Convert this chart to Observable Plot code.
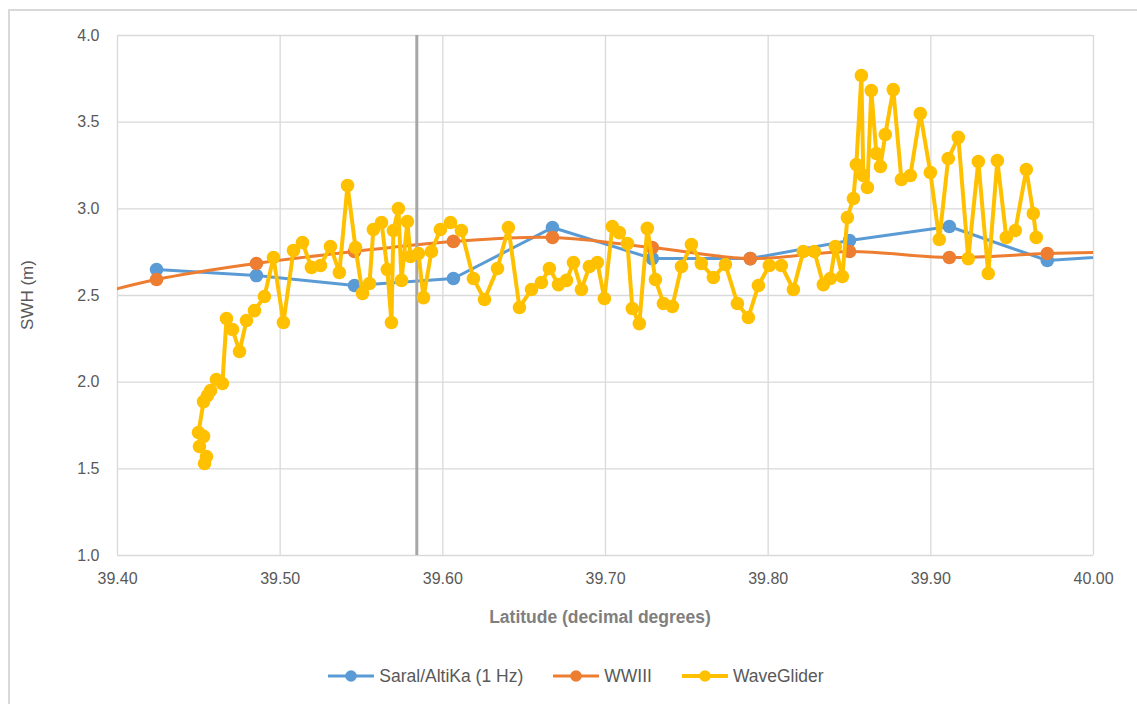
<!DOCTYPE html>
<html>
<head>
<meta charset="utf-8">
<script src="https://cdn.jsdelivr.net/npm/d3@7"></script>
<script src="https://cdn.jsdelivr.net/npm/@observablehq/plot@0.6"></script>
<style>
  html, body { margin: 0; padding: 0; background: #fff; }
  body { position: relative; width: 1137px; height: 704px; overflow: hidden; font-family: "Liberation Sans", Arial, sans-serif; }
  #frame { position: absolute; left: 8px; top: 9px; width: 1150px; height: 720px; border: 2px solid #d9d9d9; box-sizing: border-box; }
  #chart { position: absolute; left: 0; top: 0; }
  #legend { position: absolute; left: 0; top: 664px; width: 1152px; height: 24px; display: flex; justify-content: center; align-items: center; font-size: 17.5px; color: #595959; }
  .item { display: flex; align-items: center; margin: 0 15px; }
  .item svg { margin-right: 5px; }
</style>
</head>
<body>
<div id="frame"></div>
<div id="chart"></div>
<div id="legend"></div>
<script>
// ---- Data ----
const xTicks = [39.4, 39.5, 39.6, 39.7, 39.8, 39.9, 40.0];
const yTicks = [1.0, 1.5, 2.0, 2.5, 3.0, 3.5, 4.0];
const seriesNames = ["Saral/AltiKa (1 Hz)", "WWIII", "WaveGlider"];
const seriesColors = ["#5B9BD5", "#ED7D31", "#FFC000"];

const markerLat = 39.584;

const saralLat = [39.424, 39.4854, 39.5457, 39.6065, 39.6674, 39.7288, 39.789, 39.850, 39.9114, 39.9716, 40.033];
const saralSwh = [2.650, 2.615, 2.558, 2.598, 2.892, 2.713, 2.713, 2.817, 2.898, 2.702, 2.739];

const wwiiiLat = [39.363, 39.424, 39.4854, 39.5457, 39.6065, 39.6674, 39.7288, 39.789, 39.850, 39.9114, 39.9716, 40.033];
const wwiiiSwh = [2.448, 2.592, 2.685, 2.754, 2.812, 2.835, 2.777, 2.713, 2.754, 2.719, 2.742, 2.754];

const gliderLat = [
  39.4535, 39.4547, 39.4504, 39.4529, 39.4498, 39.4529, 39.4553, 39.4572, 39.4608, 39.4645,
  39.4670, 39.4707, 39.4750, 39.4793, 39.4842, 39.4903, 39.4959, 39.5020, 39.5082, 39.5137,
  39.5192, 39.5248, 39.5309, 39.5364, 39.5414, 39.5463, 39.5506, 39.5549, 39.5573, 39.5623,
  39.5659, 39.5684, 39.5696, 39.5727, 39.5746, 39.5782, 39.5801, 39.5850, 39.5881, 39.5930,
  39.5985, 39.6047, 39.6114, 39.6188, 39.6256, 39.6336, 39.6403, 39.6471, 39.6545, 39.6606,
  39.6655, 39.6711, 39.6760, 39.6803, 39.6852, 39.6901, 39.6950, 39.6993, 39.7042, 39.7085,
  39.7135, 39.7165, 39.7208, 39.7257, 39.7307, 39.7356, 39.7411, 39.7467, 39.7528, 39.7589,
  39.7663, 39.7737, 39.7811, 39.7878, 39.7940, 39.8007, 39.8081, 39.8155, 39.8216, 39.8284,
  39.8339, 39.8382, 39.8413, 39.8456, 39.8487, 39.8524, 39.8542, 39.8573, 39.8585, 39.8610,
  39.8634, 39.8665, 39.8690, 39.8720, 39.8769, 39.8819, 39.8874, 39.8935, 39.8997, 39.9052,
  39.9107, 39.9169, 39.9230, 39.9292, 39.9353, 39.9409, 39.9464, 39.9519, 39.9587, 39.9630,
  39.9648
];
const gliderSwh = [
  1.531, 1.571, 1.629, 1.687, 1.710, 1.888, 1.923, 1.952, 2.015, 1.992,
  2.367, 2.304, 2.177, 2.356, 2.413, 2.494, 2.719, 2.344, 2.760, 2.806,
  2.662, 2.673, 2.783, 2.633, 3.135, 2.777, 2.512, 2.569, 2.881, 2.921,
  2.650, 2.344, 2.875, 3.002, 2.587, 2.927, 2.725, 2.742, 2.488, 2.754,
  2.881, 2.921, 2.875, 2.598, 2.477, 2.656, 2.892, 2.431, 2.535, 2.575,
  2.656, 2.563, 2.587, 2.690, 2.535, 2.667, 2.690, 2.483, 2.898, 2.863,
  2.800, 2.425, 2.338, 2.887, 2.592, 2.454, 2.437, 2.667, 2.794, 2.685,
  2.604, 2.679, 2.454, 2.373, 2.558, 2.673, 2.673, 2.535, 2.754, 2.754,
  2.563, 2.598, 2.783, 2.610, 2.950, 3.060, 3.256, 3.769, 3.192, 3.123,
  3.683, 3.319, 3.244, 3.429, 3.688, 3.169, 3.192, 3.550, 3.210, 2.823,
  3.290, 3.412, 2.713, 3.273, 2.627, 3.279, 2.835, 2.875, 3.227, 2.973,
  2.835
];

// ---- Tables ----
const saral = saralLat.map((lat, i) => ({lat, swh: saralSwh[i]}));
const wwiii = wwiiiLat.map((lat, i) => ({lat, swh: wwiiiSwh[i]}));
const glider = gliderLat.map((lat, i) => ({lat, swh: gliderSwh[i]}));

const gridColor = "#d9d9d9";

const chart = Plot.plot({
  width: 1137,
  height: 640,
  marginLeft: 117,
  marginRight: 44,
  marginTop: 35,
  marginBottom: 85,
  style: {fontFamily: "'Liberation Sans', Arial, sans-serif", fontSize: "16px", color: "#595959", background: "transparent"},
  x: {domain: [39.4, 40.0]},
  y: {domain: [1.0, 4.0]},
  marks: [
    Plot.gridX(xTicks, {stroke: gridColor, strokeOpacity: 1, strokeWidth: 1.3}),
    Plot.gridY(yTicks, {stroke: gridColor, strokeOpacity: 1, strokeWidth: 1.3}),
    Plot.axisX(xTicks, {tickSize: 0, tickPadding: 17, tickFormat: d3.format(".2f"), label: null}),
    Plot.axisY(yTicks, {tickSize: 0, tickPadding: 18, tickFormat: d3.format(".1f"), label: null}),
    Plot.line(saral, {x: "lat", y: "swh", stroke: seriesColors[0], strokeWidth: 3, clip: true}),
    Plot.dot(saral, {x: "lat", y: "swh", fill: seriesColors[0], r: 6.8, clip: true}),
    Plot.line(wwiii, {x: "lat", y: "swh", stroke: seriesColors[1], strokeWidth: 3, curve: "catmull-rom", clip: true}),
    Plot.dot(wwiii, {x: "lat", y: "swh", fill: seriesColors[1], r: 6.8, clip: true}),
    Plot.ruleX([markerLat], {stroke: "#a6a6a6", strokeWidth: 3}),
    Plot.line(glider, {x: "lat", y: "swh", stroke: seriesColors[2], strokeWidth: 4, clip: true}),
    Plot.dot(glider, {x: "lat", y: "swh", fill: seriesColors[2], r: 6.8, clip: true})
  ]
});

const svg = d3.select(chart);
svg.append("text")
  .attr("transform", "translate(27,295) rotate(-90)")
  .attr("text-anchor", "middle")
  .attr("dy", "0.35em")
  .attr("fill", "#595959")
  .style("font-size", "17px")
  .text("SWH (m)");
svg.append("text")
  .attr("x", 600)
  .attr("y", 617)
  .attr("text-anchor", "middle")
  .attr("dy", "0.35em")
  .attr("fill", "#7f7f7f")
  .style("font-size", "17.5px")
  .style("font-weight", "bold")
  .text("Latitude (decimal degrees)");

document.getElementById("chart").appendChild(chart);

// ---- Legend ----
const legend = d3.select("#legend");
seriesNames.forEach((name, i) => {
  const item = legend.append("div").attr("class", "item");
  const s = item.append("svg").attr("width", 46).attr("height", 14);
  s.append("line").attr("x1", 0).attr("x2", 46).attr("y1", 7).attr("y2", 7)
    .attr("stroke", seriesColors[i]).attr("stroke-width", i === 2 ? 4 : 3);
  s.append("circle").attr("cx", 23).attr("cy", 7).attr("r", 5.8).attr("fill", seriesColors[i]);
  item.append("span").text(name);
});
</script>
</body>
</html>
